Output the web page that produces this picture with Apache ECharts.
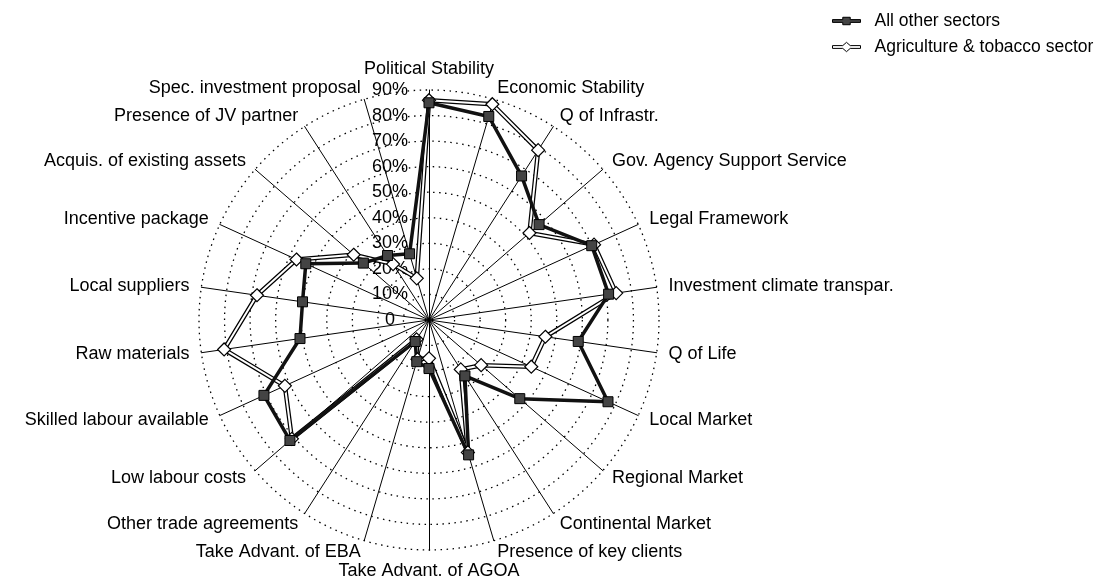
<!DOCTYPE html>
<html>
<head>
<meta charset="utf-8">
<script src="https://cdn.jsdelivr.net/npm/echarts@6/dist/echarts.min.js"></script>
<style>
  html, body { margin: 0; padding: 0; background: #fff; }
  #chart { width: 1106px; height: 587px; }
</style>
</head>
<body>
<div id="chart"></div>
<script>
// indicators, clockwise from the top
const indicators = [
  'Political Stability', 'Economic Stability', 'Q of Infrastr.', 'Gov. Agency Support Service',
  'Legal Framework', 'Investment climate transpar.', 'Q of Life', 'Local Market',
  'Regional Market', 'Continental Market', 'Presence of key clients', 'Take Advant. of AGOA',
  'Take Advant. of EBA', 'Other trade agreements', 'Low labour costs', 'Skilled labour available',
  'Raw materials', 'Local suppliers', 'Incentive package', 'Acquis. of existing assets',
  'Presence of JV partner', 'Spec. investment proposal'
]
// values in %
const otherSectors = [85, 83, 67, 57, 70, 71, 59, 77, 47, 26, 55, 19, 17, 10, 72, 71, 51, 50, 53, 34, 30, 27]
const agriTobacco  = [86, 88, 79, 52, 71, 74, 46, 44, 27, 23, 54, 15, 16, 9, 71, 62, 81, 68, 57, 39, 26, 17]
// radial tick labels
const tickValues = [0, 10, 20, 30, 40, 50, 60, 70, 80, 90]

const FONT = 'Liberation Sans'

// echarts radar runs counter-clockwise, so flip the order after the first axis
const order = [0]
for (let i = indicators.length - 1; i > 0; i--) order.push(i)
const pick = (arr) => order.map((i) => arr[i])

const chart = echarts.init(document.getElementById('chart'))

// legend icons: line with a square / a diamond in the middle
const iconA = 'path://M0,-1.5L11,-1.5L11,-4L19,-4L19,-1.5L30,-1.5L30,1.5L19,1.5L19,4L11,4L11,1.5L0,1.5Z'
const iconB = 'path://M0,-1.5L11,-1.5L15,-5L19,-1.5L30,-1.5L30,1.5L19,1.5L15,5L11,1.5L0,1.5Z'

const option = {
  backgroundColor: '#fff',
  animation: false,
  legend: {
    orient: 'vertical',
    left: 827,
    top: 7,
    itemWidth: 28,
    itemHeight: 10,
    itemGap: 8,
    textStyle: { fontFamily: FONT, fontSize: 17.5, color: '#000', padding: [0, 0, 0, 9] },
    data: [
      { name: 'All other sectors', icon: iconA, itemStyle: { color: '#444', borderColor: '#000', borderWidth: 1 } },
      { name: 'Agriculture & tobacco sector', icon: iconB, itemStyle: { color: '#fff', borderColor: '#000', borderWidth: 1 } }
    ]
  },
  // polar only used to draw the radial tick labels on the vertical axis
  polar: { center: [429, 320], radius: 230 },
  angleAxis: { show: false, min: 0, max: 360, startAngle: 90 },
  radiusAxis: {
    min: 0,
    max: 90,
    interval: 10,
    axisLine: { show: false },
    axisTick: { show: false },
    splitLine: { show: false },
    axisLabel: {
      show: true,
      margin: 39,
      align: 'center',
      fontFamily: FONT,
      fontSize: 18,
      color: '#000',
      formatter: (v) => (tickValues.includes(v) ? (v === 0 ? '0' : v + '%') : '')
    }
  },
  radar: {
    center: [429, 320],
    radius: 230,
    startAngle: 90,
    shape: 'circle',
    splitNumber: 9,
    nameGap: 12,
    indicator: pick(indicators).map((name) => ({ name: name, min: 0, max: 90 })),
    axisName: { color: '#000', fontFamily: FONT, fontSize: 18 },
    axisLine: { lineStyle: { color: '#000', width: 1 } },
    splitLine: { lineStyle: { color: '#000', width: 1.3, type: [1.5, 4.5] } },
    splitArea: { show: false }
  },
  series: [
    {
      // outer black edge of the double line
      name: 'agri-outline',
      type: 'radar',
      silent: true,
      symbol: 'none',
      lineStyle: { color: '#000', width: 4.5 },
      data: [{ name: 'agri-outline', value: pick(agriTobacco) }]
    },
    {
      name: 'Agriculture & tobacco sector',
      type: 'radar',
      symbol: 'diamond',
      symbolSize: 13,
      lineStyle: { color: '#fff', width: 2 },
      itemStyle: { color: '#fff', borderColor: '#000', borderWidth: 1.2 },
      data: [{ name: 'Agriculture & tobacco sector', value: pick(agriTobacco) }]
    },
    {
      name: 'All other sectors',
      type: 'radar',
      symbol: 'rect',
      symbolSize: 10,
      lineStyle: { color: '#111', width: 3.5 },
      itemStyle: { color: '#444', borderColor: '#000', borderWidth: 1 },
      data: [{ name: 'All other sectors', value: pick(otherSectors) }]
    }
  ]
}

chart.setOption(option)
</script>
</body>
</html>
